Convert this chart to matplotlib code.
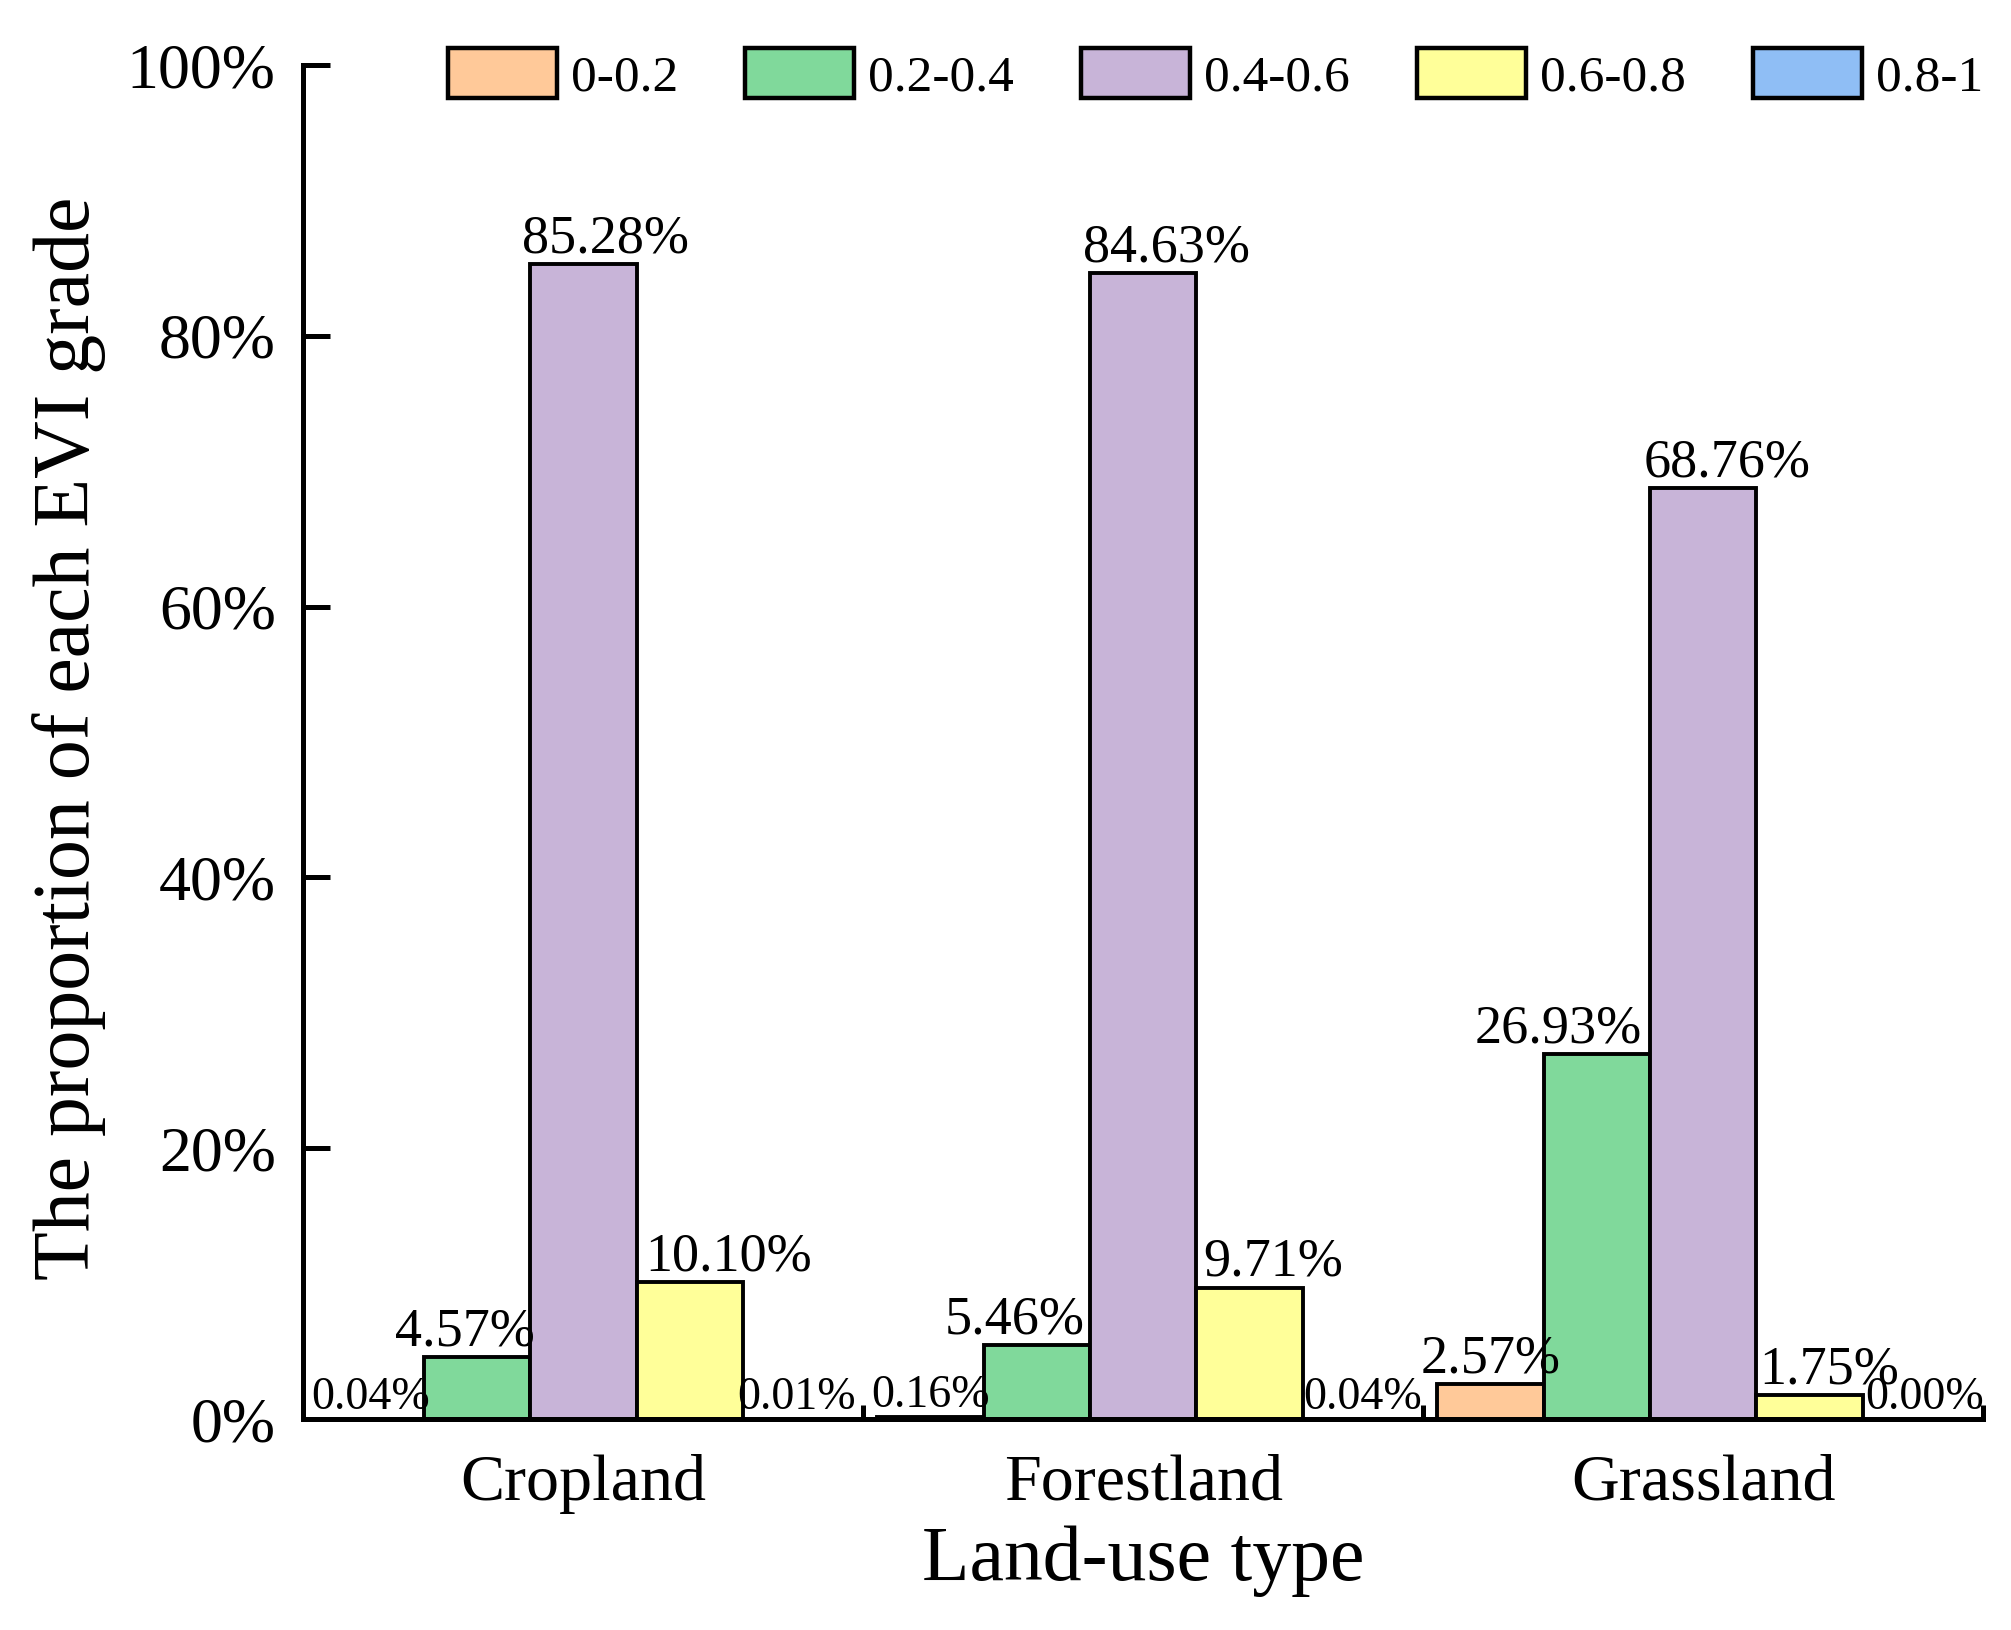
import matplotlib
matplotlib.use("Agg")
import matplotlib.pyplot as plt
import numpy as np
from matplotlib.ticker import PercentFormatter, FixedLocator

plt.rcParams['font.family'] = ['Liberation Serif', 'DejaVu Serif']

categories = ["Cropland", "Forestland", "Grassland"]
grades = ["0-0.2", "0.2-0.4", "0.4-0.6", "0.6-0.8", "0.8-1"]
# values per grade (rows) for each land-use type (columns), in %
v_00_02 = [0.04, 0.16, 2.57]
v_02_04 = [4.57, 5.46, 26.93]
v_04_06 = [85.28, 84.63, 68.76]
v_06_08 = [10.10, 9.71, 1.75]
v_08_10 = [0.01, 0.04, 0.00]
series = [v_00_02, v_02_04, v_04_06, v_06_08, v_08_10]

colors = ["#FFC999", "#80D99B", "#C8B4D8", "#FFFF99", "#8FBEF5"]
# horizontal label offsets (points), per grade/category
label_dx = [[0, 0, 0],
            [-9, -16, -28],
            [16, 17, 17],
            [28, 17, 14],
            [0, 5, 6]]

fig = plt.figure(figsize=(20.11, 16.30), dpi=100)
ax = fig.add_axes([0.1509, 0.1294, 0.9861 - 0.1509, 0.9601 - 0.1294])

x = np.arange(len(categories))
width = 0.19
for i, (vals, col) in enumerate(zip(series, colors)):
    pos = x + (i - 2) * width
    ax.bar(pos, vals, width, color=col, edgecolor='black', linewidth=2.8,
           label=grades[i], zorder=2)
    for j, (p, v) in enumerate(zip(pos, vals)):
        fs = 33 if v < 0.5 else 39
        ax.annotate(f"{v:.2f}%", xy=(p, v), xytext=(label_dx[i][j], 0),
                    textcoords='offset points', ha='center', va='bottom',
                    fontsize=fs, zorder=3)

ax.set_xlim(-0.5, 2.5)
ax.set_ylim(0, 100)
ax.spines['top'].set_visible(False)
ax.spines['right'].set_visible(False)
for s in ['left', 'bottom']:
    ax.spines[s].set_linewidth(3.6)
    ax.spines[s].set_zorder(4)

ax.yaxis.set_major_locator(FixedLocator([0, 20, 40, 60, 80, 100]))
ax.yaxis.set_major_formatter(PercentFormatter(decimals=0))
ax.tick_params(axis='y', which='major', direction='in', length=19.5, width=3.6,
               labelsize=46, pad=20)
ax.set_xticks(x)
ax.set_xticklabels(categories)
ax.set_xticks([0.5, 1.5, 2.5], minor=True)
ax.tick_params(axis='x', which='major', length=0, labelsize=47.5, pad=25)
ax.tick_params(axis='x', which='minor', direction='in', length=10, width=3.6)

ax.set_xlabel("Land-use type", fontsize=56)
ax.xaxis.set_label_coords(0.5, -0.119)
ax.xaxis.label.set_va('baseline')
ax.set_ylabel("The proportion of each EVI grade", fontsize=57.5)
ax.yaxis.set_label_coords(-0.1396, 0.503)
ax.yaxis.label.set_va('center')

leg = ax.legend(loc='center right', bbox_to_anchor=(1.0, 0.9926), ncol=5,
                frameon=False, fontsize=37, handlelength=2.12, handleheight=1.1,
                handletextpad=0.27, columnspacing=1.31, borderpad=0,
                borderaxespad=0)
for h in leg.legend_handles:
    h.set_linewidth(3.2)

fig.savefig("out.png", dpi=100)
